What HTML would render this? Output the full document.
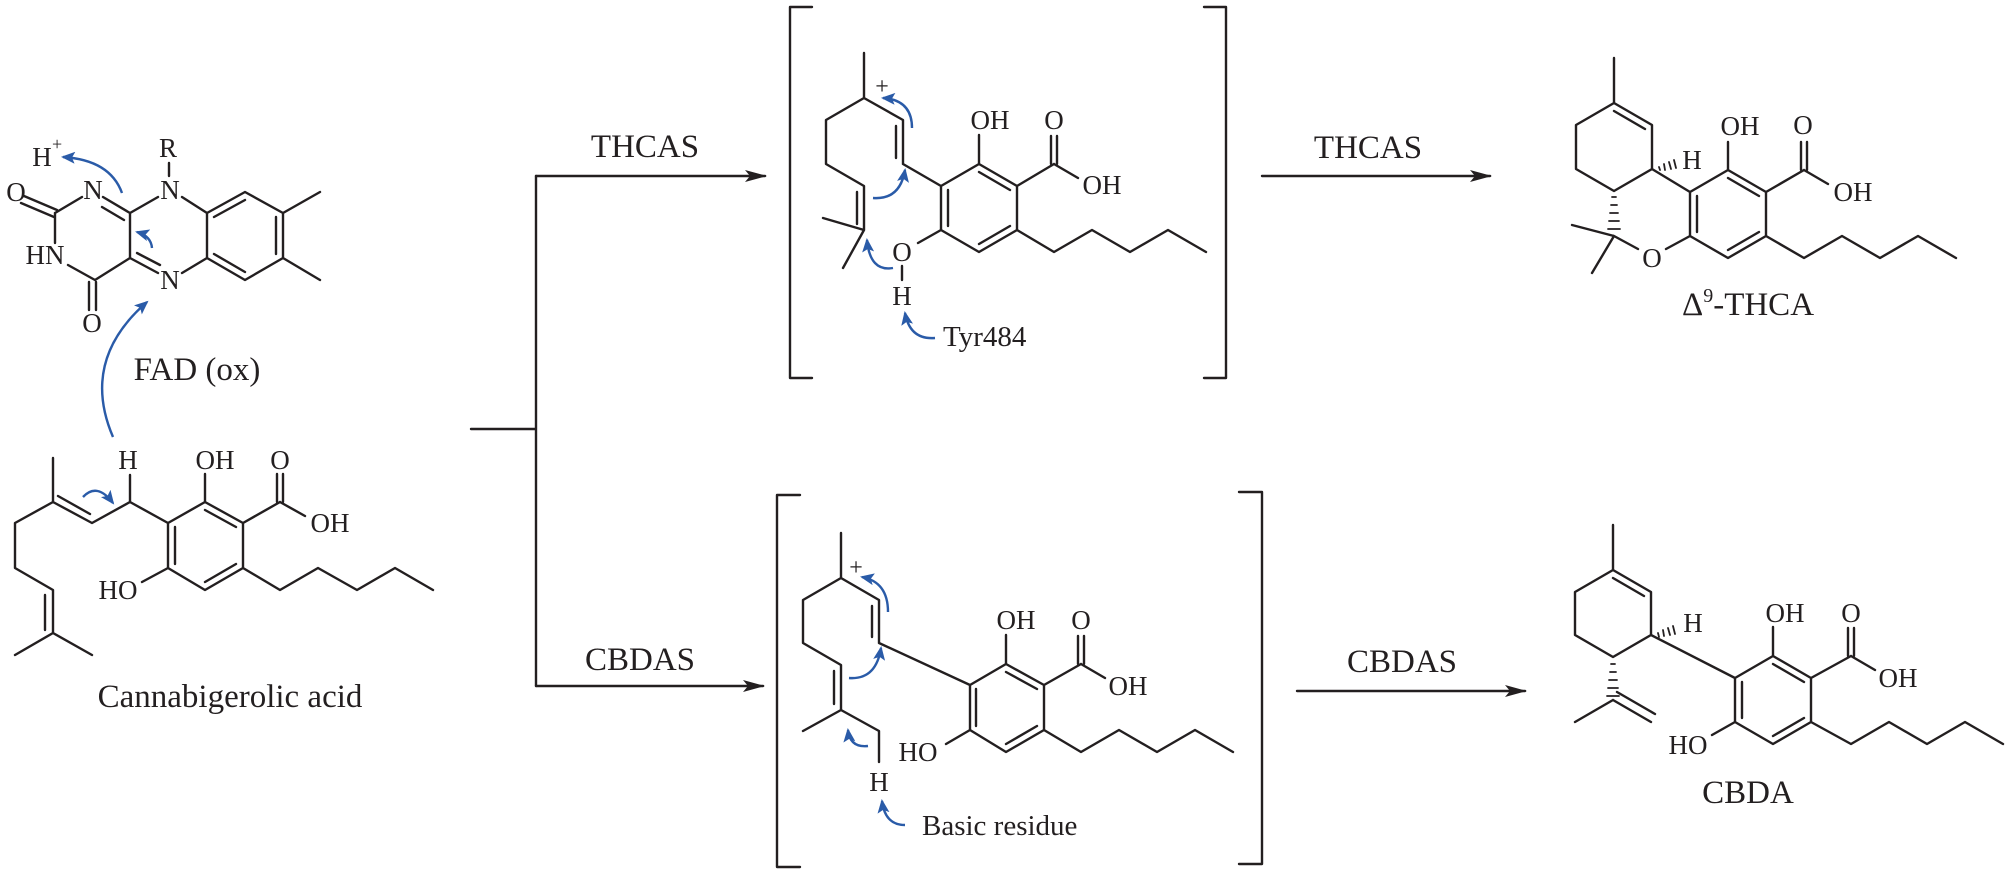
<!DOCTYPE html>
<html><head><meta charset="utf-8"><style>
html,body{margin:0;padding:0;background:#fff;}
svg{display:block;}
text{font-family:"Liberation Serif",serif;fill:#231f20;}
.a{font-size:27px;text-anchor:middle;}
.c{font-size:33px;}
</style></head><body>
<svg width="2011" height="875" viewBox="0 0 2011 875" xmlns="http://www.w3.org/2000/svg">
<defs>
<marker id="ak" markerUnits="userSpaceOnUse" markerWidth="24" markerHeight="16" refX="20" refY="8" orient="auto"><path d="M0,2 L22,8 L0,14 L5,8 Z" fill="#231f20"/></marker>
<marker id="ab" markerUnits="userSpaceOnUse" markerWidth="16" markerHeight="12" refX="12" refY="6" orient="auto"><path d="M0,0 L14,6 L0,12 L3,6 Z" fill="#2a5ba8"/></marker>
</defs>
<g stroke="#231f20" stroke-width="2.4" fill="none" stroke-linecap="round" stroke-linejoin="round">
<!-- FAD -->
<path d="M24,196 L57,210 M21,203 L54,217 M55,213 L82,197 M55,213 L55,243 M68,265 L95,280 M89,282 L89,310 M96,282 L96,310 M95,280 L130,258 L130,213 L103,197 M102,207 L124,220 M130,213 L158,197 M169,163 L169,176 M182,197 L207,213 M130,258 L158,273 M137,253 L160,265 M182,273 L207,258 M207,213 L245,192 L283,213 L283,258 L245,280 L207,258 Z M214,217 L245,200 M276,217 L276,254 M245,272 L214,254 M283,213 L320,192 M283,258 L320,280"/>
<!-- CBGA -->
<path d="M53,458 L53,502 L92,523 L130,502 L130,475 M58,496 L90,514 M130,502 L168,523 M168,523 L205,502 L243,523 L243,568 L205,590 L168,568 Z M175,527 L175,564 M205,510 L236,527 M236,564 L205,582 M205,502 L205,474 M243,523 L280,502 M277,502 L277,474 M283,502 L283,474 M280,502 L305,516 M53,502 L15,523 L15,568 L53,590 L53,633 M45,595 L45,630 M53,633 L15,655 M53,633 L92,655 M168,568 L142,582 M243,568 L280,590 L318,568 L357,590 L395,568 L433,590"/>
<!-- branch arrows -->
<path d="M471,429 L536,429 M536,176 L536,686"/>
<path d="M536,176 L765,176" marker-end="url(#ak)"/>
<path d="M536,686 L763,686" marker-end="url(#ak)"/>
<path d="M1262,176 L1490,176" marker-end="url(#ak)"/>
<path d="M1297,691 L1525,691" marker-end="url(#ak)"/>
<!-- brackets -->
<path d="M812,7 L790,7 L790,378 L812,378 M1204,7 L1226,7 L1226,378 L1204,378"/>
<path d="M800,495 L777,495 L777,867 L800,867 M1239,492 L1262,492 L1262,864 L1239,864"/>
<!-- THCAS intermediate -->
<path d="M864,53 L864,98 L826,120 L826,164 L864,186 L864,230 M857,192 L857,224 M864,230 L823,218 M864,230 L843,268 M864,98 L903,120 L903,164 M896,126 L896,158 M903,164 L941,186 M941,186 L979,164 L1017,186 L1017,230 L979,252 L941,230 Z M948,190 L948,226 M979,172 L1010,190 M1010,226 L979,244 M979,164 L979,135 M1017,186 L1054,164 M1051,164 L1051,136 M1057,164 L1057,136 M1054,164 L1078,178 M1017,230 L1054,252 L1092,230 L1130,252 L1168,230 L1206,252 M941,230 L918,243 M902,266 L902,280"/>
<!-- THCA product -->
<path d="M1614,58 L1614,103 M1614,103 L1652,125 L1652,169 L1614,191 L1576,169 L1576,125 Z M1614,111 L1645,129 M1652,169 L1690,192 M1690,192 L1728,170 L1766,192 L1766,236 L1728,258 L1690,236 Z M1697,196 L1697,232 M1728,178 L1759,196 M1759,232 L1728,250 M1728,170 L1728,142 M1766,192 L1804,170 M1801,170 L1801,142 M1807,170 L1807,142 M1804,170 L1828,184 M1766,236 L1804,258 L1842,236 L1880,258 L1918,236 L1956,258 M1690,236 L1666,249 M1638,249 L1614,236 M1614,236 L1572,225 M1614,236 L1592,273"/>
<path stroke-width="1.8" d="M1659,167 L1660,170 M1664,164 L1665,170 M1669,162 L1671,169 M1674,160 L1676,168 M1612,197 L1616,197 M1611,205 L1617,205 M1610,213 L1618,213 M1609,221 L1619,221 M1608,229 L1620,229"/>
<!-- CBDAS intermediate -->
<path d="M841,533 L841,578 L803,600 L803,643 L841,665 L841,710 M834,671 L834,704 M841,710 L803,731 M841,710 L879,731 L879,762 M841,578 L879,600 L879,643 M872,606 L872,637 M879,643 L970,685 M970,685 L1006,664 L1044,685 L1044,730 L1006,752 L970,730 Z M976,689 L976,726 M1006,672 L1037,689 M1037,726 L1006,744 M1006,664 L1006,635 M1044,685 L1081,664 M1078,664 L1078,636 M1084,664 L1084,636 M1081,664 L1105,678 M1044,730 L1081,752 L1119,730 L1157,752 L1195,730 L1233,752 M970,730 L946,744"/>
<!-- CBDA product -->
<path d="M1613,525 L1613,570 M1613,570 L1651,592 L1651,635 L1613,657 L1575,635 L1575,592 Z M1613,578 L1644,596 M1651,635 L1735,678 M1735,678 L1773,656 L1811,678 L1811,722 L1773,744 L1735,722 Z M1742,682 L1742,718 M1773,664 L1804,682 M1804,718 L1773,736 M1773,656 L1773,627 M1811,678 L1851,656 M1848,656 L1848,628 M1854,656 L1854,628 M1851,656 L1875,670 M1811,722 L1851,744 L1889,722 L1927,744 L1965,722 L2003,744 M1735,722 L1712,735 M1613,700 L1575,722 M1613,700 L1651,722 M1617,692 L1655,714"/>
<path stroke-width="1.8" d="M1658,633 L1659,637 M1663,630 L1664,636 M1668,628 L1670,635 M1673,626 L1675,634 M1611,664 L1615,664 M1610,672 L1616,672 M1609,680 L1617,680 M1608,688 L1618,688 M1607,696 L1619,696"/>
</g>
<!-- blue arrows -->
<g stroke="#2a5ba8" stroke-width="2.4" fill="none" marker-end="url(#ab)">
<path d="M122,193 Q110,160 63,157"/>
<path d="M152,248 Q151,236 137,232"/>
<path d="M113,437 Q80,360 147,302"/>
<path d="M83,497 Q97,482 113,503"/>
<path d="M912,128 Q912,100 883,98"/>
<path d="M873,198 Q900,200 905,170"/>
<path d="M893,268 Q870,272 867,240"/>
<path d="M935,338 Q910,340 905,313"/>
<path d="M888,612 Q888,582 862,577"/>
<path d="M849,678 Q876,680 881,648"/>
<path d="M868,746 Q850,748 848,730"/>
<path d="M905,825 Q885,825 882,801"/>
</g>
<!-- labels FAD -->
<text class="a" x="16" y="201">O</text>
<text class="a" x="93" y="199">N</text>
<text class="a" x="45" y="264">HN</text>
<text class="a" x="92" y="332">O</text>
<text class="a" x="170" y="199">N</text>
<text class="a" x="170" y="289">N</text>
<text class="a" x="168" y="157">R</text>
<text class="a" x="42" y="166">H</text>
<text x="52" y="150" style="font-size:18px">+</text>
<text class="c" x="197" y="380" text-anchor="middle">FAD (ox)</text>
<!-- CBGA -->
<text class="a" x="128" y="469">H</text>
<text class="a" x="215" y="469">OH</text>
<text class="a" x="280" y="469">O</text>
<text class="a" x="330" y="532">OH</text>
<text class="a" x="118" y="599">HO</text>
<text class="c" x="230" y="707" text-anchor="middle">Cannabigerolic acid</text>
<!-- arrow labels -->
<text class="c" x="645" y="157" text-anchor="middle">THCAS</text>
<text class="c" x="1368" y="158" text-anchor="middle">THCAS</text>
<text class="c" x="640" y="670" text-anchor="middle">CBDAS</text>
<text class="c" x="1402" y="672" text-anchor="middle">CBDAS</text>
<!-- THCAS intermediate -->
<text x="882" y="94" text-anchor="middle" style="font-size:24px">+</text>
<text class="a" x="990" y="129">OH</text>
<text class="a" x="1054" y="129">O</text>
<text class="a" x="1102" y="194">OH</text>
<text class="a" x="902" y="261">O</text>
<text class="a" x="902" y="305">H</text>
<text x="943" y="346" style="font-size:29px">Tyr484</text>
<!-- THCA -->
<text class="a" x="1692" y="169">H</text>
<text class="a" x="1740" y="135">OH</text>
<text class="a" x="1803" y="134">O</text>
<text class="a" x="1853" y="201">OH</text>
<text class="a" x="1652" y="267">O</text>
<text class="c" x="1748" y="315" text-anchor="middle">Δ<tspan dy="-13" style="font-size:20px">9</tspan><tspan dy="13">-THCA</tspan></text>
<!-- CBDAS intermediate -->
<text x="856" y="575" text-anchor="middle" style="font-size:24px">+</text>
<text class="a" x="1016" y="629">OH</text>
<text class="a" x="1081" y="629">O</text>
<text class="a" x="1128" y="695">OH</text>
<text class="a" x="918" y="761">HO</text>
<text class="a" x="879" y="791">H</text>
<text x="922" y="835" style="font-size:29px">Basic residue</text>
<!-- CBDA -->
<text class="a" x="1693" y="632">H</text>
<text class="a" x="1785" y="622">OH</text>
<text class="a" x="1851" y="622">O</text>
<text class="a" x="1898" y="687">OH</text>
<text class="a" x="1688" y="754">HO</text>
<text class="c" x="1748" y="803" text-anchor="middle">CBDA</text>
</svg>
</body></html>
